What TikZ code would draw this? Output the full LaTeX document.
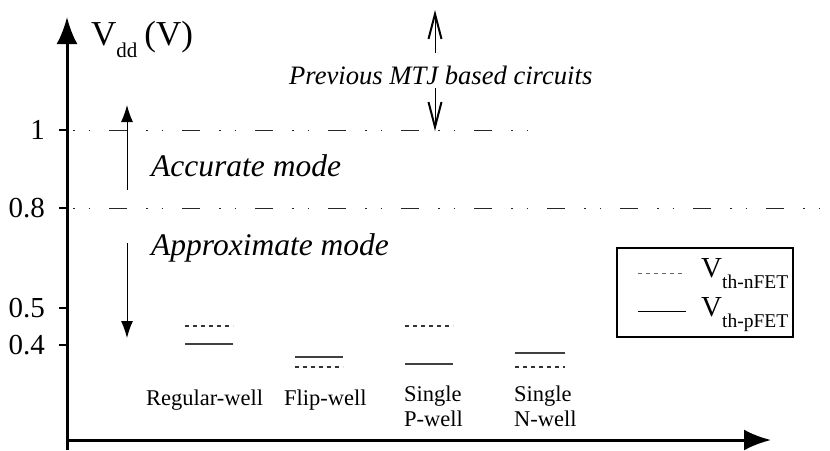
\documentclass[tikz,border=0pt]{standalone}
\usepackage{fontspec}
\setmainfont{Liberation Serif}
\usetikzlibrary{arrows.meta}
\begin{document}
\begin{tikzpicture}[x=1pt,y=-1pt,
  axis/.style={line width=3pt,-{Latex[length=27pt,width=21pt]}},
  tickmark/.style={line width=2pt},
  ticklabel/.style={anchor=east,inner sep=0pt,font=\fontsize{29}{30}\selectfont},
  levelline/.style={line width=1pt,black!85,dash pattern=on 18pt off 19pt on 1.5pt off 14pt on 1.5pt off 19pt,dash phase=31pt},
  modearrow/.style={line width=1pt,-{Latex[length=17pt,width=12pt]}},
  prevarrow/.style={line width=1pt,-{Straight Barb[length=25pt,width=13pt,line width=2pt]}},
  modetext/.style={anchor=base west,inner sep=0pt,font=\fontsize{31.5}{33}\selectfont\itshape},
  nline/.style={line width=1.1pt,black!80,dash pattern=on 4pt off 4pt},
  pline/.style={line width=1.4pt,black!75},
  welltext/.style={anchor=base west,inner sep=0pt,font=\fontsize{22.5}{24}\selectfont},
  legendbox/.style={draw,line width=2pt}
]
\useasboundingbox (0,0) rectangle (830,450);

% axes
\coordinate (yb) at (67,450);
\coordinate (yt) at (67,17);
\draw[axis] (yb) -- (yt);
\coordinate (xl) at (67,440);
\coordinate (xr) at (771,440);
\draw[axis] (xl) -- (xr);

% axis title
\node[anchor=base west,inner sep=0pt,font=\fontsize{35}{36}\selectfont] (vdd) at (91,45)
  {V\raisebox{-12pt}{\fontsize{21}{21}\selectfont dd}\hspace{7pt}(V)};

% ticks
\foreach \nm/\yy/\lab in {t1/130/1, t08/208/0.8, t05/308/0.5, t04/345/0.4}{
  \coordinate (\nm a) at (59,\yy);
  \coordinate (\nm b) at (67,\yy);
  \draw[tickmark] (\nm a) -- (\nm b);
  \node[ticklabel] (\nm lab) at (45,\yy) {\lab};
}

% level lines
\coordinate (l1a) at (67,130);
\coordinate (l1b) at (541,130);
\draw[levelline] (l1a) -- (l1b);
\coordinate (l08a) at (67,208);
\coordinate (l08b) at (820,208);
\draw[levelline] (l08a) -- (l08b);

% previous MTJ arrows and text
\coordinate (pu0) at (435,53);
\coordinate (pu1) at (435,10);
\draw[prevarrow] (pu0) -- (pu1);
\coordinate (pd0) at (435,88);
\coordinate (pd1) at (435,131);
\draw[prevarrow] (pd0) -- (pd1);
\node[anchor=base west,inner sep=0pt,font=\fontsize{26.6}{28}\selectfont\itshape] (prev) at (289,84)
  {Previous MTJ based circuits};

% modes
\coordinate (au0) at (127,190);
\coordinate (au1) at (127,105);
\draw[modearrow] (au0) -- (au1);
\node[modetext] (acc) at (151,176) {Accurate mode};
\coordinate (ad0) at (127,243);
\coordinate (ad1) at (127,338);
\draw[modearrow] (ad0) -- (ad1);
\node[modetext] (appr) at (151,255) {Approximate mode};

% threshold levels
\coordinate (rwn0) at (185,326); \coordinate (rwn1) at (233,326);
\draw[nline] (rwn0) -- (rwn1);
\coordinate (rwp0) at (185,344); \coordinate (rwp1) at (233,344);
\draw[pline] (rwp0) -- (rwp1);
\coordinate (fwp0) at (295,357); \coordinate (fwp1) at (343,357);
\draw[pline] (fwp0) -- (fwp1);
\coordinate (fwn0) at (295,367); \coordinate (fwn1) at (343,367);
\draw[nline] (fwn0) -- (fwn1);
\coordinate (spn0) at (405,326); \coordinate (spn1) at (453,326);
\draw[nline] (spn0) -- (spn1);
\coordinate (spp0) at (405,364); \coordinate (spp1) at (453,364);
\draw[pline] (spp0) -- (spp1);
\coordinate (snp0) at (515,353); \coordinate (snp1) at (565,353);
\draw[pline] (snp0) -- (snp1);
\coordinate (snn0) at (515,367); \coordinate (snn1) at (565,367);
\draw[nline] (snn0) -- (snn1);

% well labels
\node[welltext] (rw) at (146,405) {Regular-well};
\node[welltext] (fw) at (284,405) {Flip-well};
\node[welltext] (sp1) at (404,401) {Single};
\node[welltext] (sp2) at (404,426) {P-well};
\node[welltext] (sn1) at (514,401) {Single};
\node[welltext] (sn2) at (514,426) {N-well};

% legend
\node[legendbox,minimum width=176pt,minimum height=89pt,inner sep=0pt] (leg) at (705,292.5) {};
\coordinate (lgn0) at (638,273); \coordinate (lgn1) at (686,273);
\draw[nline,line width=0.8pt,black!60] (lgn0) -- (lgn1);
\coordinate (lgp0) at (638,311); \coordinate (lgp1) at (686,311);
\draw[line width=1pt] (lgp0) -- (lgp1);
\node[anchor=base west,inner sep=0pt,font=\fontsize{29}{29}\selectfont] (lgnt) at (701,277)
  {V\raisebox{-11pt}{\fontsize{19.5}{19.5}\selectfont th-nFET}};
\node[anchor=base west,inner sep=0pt,font=\fontsize{29}{29}\selectfont] (lgpt) at (701,316)
  {V\raisebox{-11pt}{\fontsize{19.5}{19.5}\selectfont th-pFET}};
\end{tikzpicture}
\end{document}
